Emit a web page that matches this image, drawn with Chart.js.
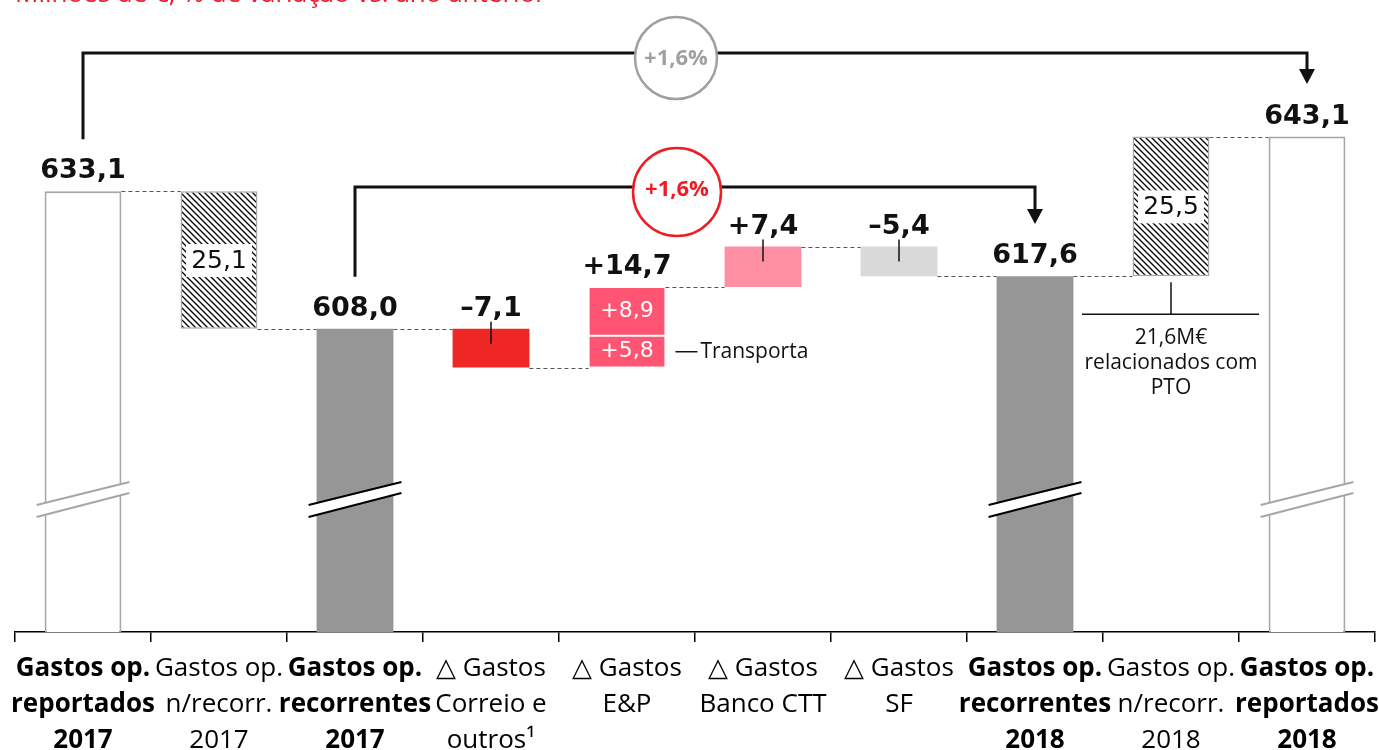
<!DOCTYPE html>
<html>
<head>
<meta charset="utf-8">
<script src="https://cdn.jsdelivr.net/npm/chart.js@4.4.1/dist/chart.umd.min.js"></script>
<style>
html,body{margin:0;padding:0;background:#fff;}
canvas{display:block;}
</style>
</head>
<body>
<canvas id="showchart" width="1379" height="750"></canvas>
<script>
// categories (multi-line tick labels)
var categories = [
	['Gastos op.','reportados','2017'],
	['Gastos op.','n/recorr.','2017'],
	['Gastos op.','recorrentes','2017'],
	['\u25b3 Gastos','Correio e','outros\u00b9'],
	['\u25b3 Gastos','E&P'],
	['\u25b3 Gastos','Banco CTT'],
	['\u25b3 Gastos','SF'],
	['Gastos op.','recorrentes','2018'],
	['Gastos op.','n/recorr.','2018'],
	['Gastos op.','reportados','2018']
];
var boldCats = [0,2,7,9];
var totals = [633.1, null, 608.0, null, null, null, null, 617.6, null, 643.1];
var deltas = [null, -25.1, null, -7.1, 14.7, 7.4, -5.4, null, 25.5, null];
var epParts = [5.8, 8.9];            // Transporta, resto E&P
var valueText = ['633,1','25,1','608,0','\u20137,1','+14,7','+7,4','\u20135,4','617,6','25,5','643,1'];
var partText = ['+5,8','+8,9'];
var growthText = ['+1,6%','+1,6%'];
var titleText = 'Milh\u00f5es de \u20ac; % de varia\u00e7\u00e3o vs. ano anterior';
var ptoText = ['21,6M\u20ac','relacionados com','PTO'];
var yMin = 552.6, yMax = 668.05;

// waterfall ranges
var mainData = [], transData = [], restData = [], levels = [];
var level = null;
for (var i = 0; i < categories.length; i++) {
	transData.push(null); restData.push(null);
	if (totals[i] !== null) {
		level = totals[i];
		mainData.push([yMin - 3, level]);
	} else if (i === 4) {
		var a1 = level + epParts[0], a2 = a1 + epParts[1];
		transData[i] = [level, a1];
		restData[i] = [a1, a2];
		mainData.push(null);
		level = a2;
	} else {
		var nx = level + deltas[i];
		mainData.push([Math.min(level, nx), Math.max(level, nx)]);
		level = nx;
	}
	levels.push(level);
}

function hatch() {
	var n = 6;
	var c = document.createElement('canvas'); c.width = n; c.height = n;
	var g = c.getContext('2d');
	g.fillStyle = '#fff'; g.fillRect(0,0,n,n);
	g.strokeStyle = '#000'; g.lineWidth = 1.3;
	g.beginPath();
	g.moveTo(-1,-1); g.lineTo(n+1,n+1);
	g.moveTo(-1,n-1); g.lineTo(1,n+1);
	g.moveTo(n-1,-1); g.lineTo(n+1,1);
	g.stroke();
	return g.createPattern(c, 'repeat');
}
var hp = hatch();
var barColors = ['#fff', hp, '#969696', '#ee2724', null, '#ff8fa2', '#d9d9d9', '#969696', hp, '#fff'];
var borderColors = ['#a6a6a6','#a6a6a6','#969696','#ee2724',null,'#ff8fa2','#d9d9d9','#969696','#a6a6a6','#a6a6a6'];
var borderWidths = [2,1.5,0,0,0,0,0,0,1.5,2];

var SANS = "'Open Sans', 'DejaVu Sans', sans-serif";
var BOLDV = "'DejaVu Sans', sans-serif";

var annot = {
	id: 'annot',
	afterDatasetsDraw: function(chart) {
		var c = chart.ctx, area = chart.chartArea, ys = chart.scales.y;
		var m0 = chart.getDatasetMeta(0).data, m1 = chart.getDatasetMeta(1).data, m2 = chart.getDatasetMeta(2).data;
		function bar(i) {
			if (i === 4) return {x: m1[4].x, top: m2[4].y, bottom: m1[4].base, w: m1[4].width};
			var e = m0[i];
			return {x: e.x, top: e.y, bottom: e.base, w: e.width};
		}
		c.save();
		// title (cut at top)
		c.fillStyle = '#f0192b';
		c.font = '26px ' + SANS;
		c.textAlign = 'left'; c.textBaseline = 'alphabetic';
		c.fillText(titleText, 15, 2);

		// axis breaks
		var yb = area.bottom - 133;
		boldCats.forEach(function(i) {
			var b = bar(i);
			var x0 = b.x - b.w/2 - 8, x1 = b.x + b.w/2 + 8;
			c.fillStyle = '#fff';
			c.beginPath();
			c.moveTo(x0, yb+6); c.lineTo(x1, yb-17); c.lineTo(x1, yb-6); c.lineTo(x0, yb+18);
			c.closePath(); c.fill();
			c.strokeStyle = (i === 2 || i === 7) ? '#000' : '#a6a6a6';
			c.lineWidth = 2;
			c.beginPath();
			c.moveTo(x0, yb+6); c.lineTo(x1, yb-17);
			c.moveTo(x0, yb+18); c.lineTo(x1, yb-6);
			c.stroke();
		});

		// dashed connectors
		c.strokeStyle = '#555'; c.lineWidth = 1; c.setLineDash([4,3]);
		for (var i = 0; i < categories.length - 1; i++) {
			var b = bar(i), n = bar(i+1);
			var y = Math.round(ys.getPixelForValue(levels[i])) + 0.5;
			c.beginPath(); c.moveTo(b.x + b.w/2, y); c.lineTo(n.x - n.w/2, y); c.stroke();
		}
		c.setLineDash([]);

		// value labels
		c.textAlign = 'center';
		for (var i = 0; i < categories.length; i++) {
			var b = bar(i);
			if (i === 1 || i === 8) {
				var cy = (b.top + b.bottom) / 2;
				c.fillStyle = '#fff';
				c.fillRect(b.x - 33, cy - 16, 66, 33);
				c.fillStyle = '#111';
				c.font = '25px ' + BOLDV;
				c.textBaseline = 'middle';
				c.fillText(valueText[i], b.x, cy + 1);
				continue;
			}
			c.fillStyle = '#111';
			c.font = 'bold 27px ' + BOLDV;
			c.textBaseline = 'alphabetic';
			c.fillText(valueText[i], b.x, b.top - 13);
			if (i === 3 || i === 5 || i === 6) {
				c.strokeStyle = '#111'; c.lineWidth = 1.5;
				c.beginPath(); c.moveTo(b.x, b.top - 7); c.lineTo(b.x, b.top + 15); c.stroke();
			}
		}

		// E&P parts
		var t = m1[4], r = m2[4];
		c.fillStyle = '#fff'; c.font = '22px ' + BOLDV; c.textBaseline = 'middle';
		c.fillText(partText[0], t.x, (t.y + t.base)/2);
		c.fillText(partText[1], r.x, (r.y + r.base)/2);
		var ty = (t.y + t.base)/2;
		c.strokeStyle = '#111'; c.lineWidth = 1.5;
		c.beginPath(); c.moveTo(t.x + t.width/2 + 10, ty); c.lineTo(t.x + t.width/2 + 32, ty); c.stroke();
		c.fillStyle = '#111'; c.textAlign = 'left'; c.font = '21px ' + SANS;
		c.fillText('Transporta', t.x + t.width/2 + 35, ty);

		// PTO note
		var p = bar(8);
		var ly = p.bottom + 38;
		c.beginPath(); c.moveTo(p.x, p.bottom + 6); c.lineTo(p.x, ly);
		c.moveTo(p.x - 89, ly); c.lineTo(p.x + 88, ly); c.stroke();
		c.textAlign = 'center';
		ptoText.forEach(function(s, k) { c.fillText(s, p.x, ly + 24 + k*25); });

		// growth brackets
		function bracket(i0, i1, yTop, yStart, tip, cx, rad, col) {
			var b0 = bar(i0), b1 = bar(i1);
			c.strokeStyle = '#111'; c.lineWidth = 3;
			c.beginPath();
			c.moveTo(b0.x, yStart); c.lineTo(b0.x, yTop); c.lineTo(b1.x, yTop); c.lineTo(b1.x, tip - 14);
			c.stroke();
			c.fillStyle = '#111';
			c.beginPath(); c.moveTo(b1.x - 8, tip - 15); c.lineTo(b1.x + 8, tip - 15); c.lineTo(b1.x, tip); c.closePath(); c.fill();
			c.fillStyle = '#fff';
			c.beginPath(); c.arc(cx, yTop + 5, rad, 0, Math.PI*2); c.fill();
			c.strokeStyle = col; c.lineWidth = 2.5; c.stroke();
		}
		bracket(0, 9, 53, bar(0).top - 52, 84, 676, 41, '#a0a0a0');
		bracket(2, 7, 187, bar(2).top - 52, 224, 677, 44, '#ee1c25');
		c.textAlign = 'center'; c.textBaseline = 'middle';
		c.font = 'bold 22px ' + SANS;
		c.fillStyle = '#a0a0a0'; c.fillText(growthText[0], 676, 59);
		c.fillStyle = '#ee1c25'; c.fillText(growthText[1], 677, 190);
		c.restore();
	}
};

var ctx = document.getElementById('showchart');
new Chart(ctx, {
	type: 'bar',
	data: {
		labels: categories,
		datasets: [
			{ data: mainData, backgroundColor: barColors, borderColor: borderColors, borderWidth: borderWidths,
			  borderSkipped: false, grouped: false, barPercentage: 0.565, categoryPercentage: 1 },
			{ data: transData, backgroundColor: '#ff5573', borderColor: '#fff', borderWidth: 1,
			  borderSkipped: false, grouped: false, barPercentage: 0.565, categoryPercentage: 1 },
			{ data: restData, backgroundColor: '#ff5573', borderColor: '#fff', borderWidth: 1,
			  borderSkipped: false, grouped: false, barPercentage: 0.565, categoryPercentage: 1 }
		]
	},
	options: {
		responsive: false,
		animation: false,
		devicePixelRatio: 1,
		layout: { padding: { left: 15, right: 4, top: 0, bottom: 0 } },
		plugins: { legend: { display: false }, tooltip: { enabled: false } },
		scales: {
			y: { display: false, min: yMin, max: yMax },
			x: {
				grid: { offset: true, drawOnChartArea: false, drawTicks: true, tickLength: 10, color: '#000', lineWidth: 1.5 },
				border: { display: true, color: '#000', width: 1.5 },
				ticks: {
					color: '#000', autoSkip: false, maxRotation: 0, padding: 8,
					font: function(c) {
						return { family: SANS, size: 26, lineHeight: 1.4, weight: boldCats.indexOf(c.index) >= 0 ? 'bold' : 'normal' };
					}
				},
				afterFit: function(s) { s.height = 118; s.paddingLeft = 0; s.paddingRight = 0; }
			}
		}
	},
	plugins: [annot]
});
</script>
</body>
</html>
